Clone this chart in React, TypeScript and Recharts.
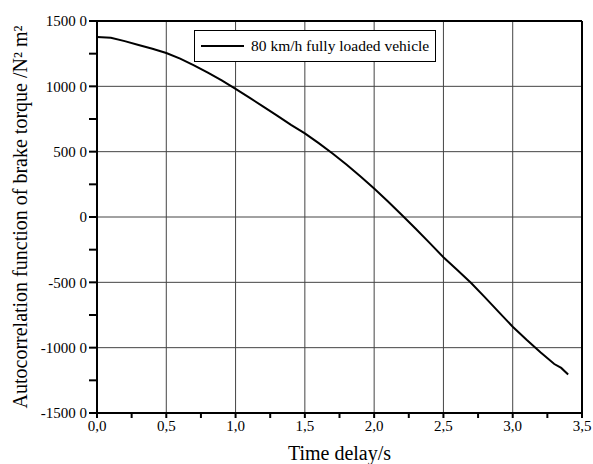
import { LineChart, Line, XAxis, YAxis, Legend, ReferenceLine } from 'recharts'

// time delay (s) and autocorrelation values
const timeDelay = [
  0.0, 0.1, 0.2, 0.3, 0.4, 0.5, 0.6, 0.7, 0.8, 0.9, 1.0, 1.1, 1.2, 1.3, 1.4, 1.5, 1.6, 1.7,
  1.8, 1.9, 2.0, 2.1, 2.2, 2.3, 2.4, 2.5, 2.6, 2.7, 2.8, 2.9, 3.0, 3.1, 3.2, 3.3, 3.35, 3.4,
]
const autocorr = [
  13770, 13720, 13460, 13170, 12880, 12550, 12120, 11610, 11050, 10450, 9800, 9130, 8450, 7760,
  7050, 6400, 5650, 4860, 4020, 3120, 2180, 1180, 150, -900, -1980, -3080, -4050, -5050, -6150,
  -7280, -8400, -9400, -10350, -11250, -11550, -12050,
]
const seriesName = '80 km/h fully loaded vehicle'

const xTicks = [0, 0.25, 0.5, 0.75, 1, 1.25, 1.5, 1.75, 2, 2.25, 2.5, 2.75, 3, 3.25, 3.5]
const xMajor = [0, 0.5, 1, 1.5, 2, 2.5, 3, 3.5]
const xTickLabels = ['0,0', '0,5', '1,0', '1,5', '2,0', '2,5', '3,0', '3,5']

const yTicks = [-15000, -12500, -10000, -7500, -5000, -2500, 0, 2500, 5000, 7500, 10000, 12500, 15000]
const yMajor = [-15000, -10000, -5000, 0, 5000, 10000, 15000]
const yTickLabels = ['-1500 0', '-1000 0', '-500 0', '0', '500 0', '1000 0', '1500 0']

const data = timeDelay.map((t, i) => ({ t, r: autocorr[i] }))

const serif = "'Liberation Serif', 'Times New Roman', serif"

function LegendBox({ payload }: any) {
  if (!payload || !payload.length) return null
  return (
    <div
      style={{
        border: '1px solid #000',
        background: '#fff',
        padding: '6px 6px 6px 6px',
        display: 'flex',
        alignItems: 'center',
        fontFamily: serif,
        fontSize: 15.5,
        color: '#000',
        whiteSpace: 'nowrap',
      }}
    >
      <span style={{ display: 'inline-block', width: 43, height: 2, background: '#000', marginRight: 7 }} />
      {payload[0].value}
    </div>
  )
}

export default function App() {
  return (
    <div style={{ position: 'absolute', left: 0, top: 0, background: '#fff', fontFamily: serif }}>
      <LineChart
        width={593}
        height={464}
        data={data}
        margin={{ top: 21, right: 11, bottom: 0, left: 10 }}
      >
        {xMajor.slice(1, -1).map((v) => (
          <ReferenceLine key={'gx' + v} x={v} stroke="#444" strokeWidth={1} />
        ))}
        {yMajor.slice(1, -1).map((v) => (
          <ReferenceLine key={'gy' + v} y={v} stroke="#444" strokeWidth={1} />
        ))}
        <ReferenceLine x={3.5} stroke="#000" strokeWidth={2} />
        <ReferenceLine y={15000} stroke="#000" strokeWidth={2} />
        <XAxis
          dataKey="t"
          type="number"
          domain={[0, 3.5]}
          ticks={xTicks}
          interval={0}
          height={51}
          axisLine={{ stroke: '#000', strokeWidth: 2 }}
          tickLine={{ stroke: '#000', strokeWidth: 2 }}
          tickSize={5}
          tick={{ fill: '#000', fontSize: 15, style: { fontFamily: serif } }}
          tickFormatter={(v: number) => {
            const i = xMajor.indexOf(v)
            return i >= 0 ? xTickLabels[i] : ''
          }}
          label={{
            value: 'Time delay/s',
            position: 'insideBottom',
            offset: 4,
            style: { fill: '#000', fontSize: 20, fontFamily: serif },
          }}
        />
        <YAxis
          type="number"
          domain={[-15000, 15000]}
          ticks={yTicks}
          interval={0}
          width={87}
          axisLine={{ stroke: '#000', strokeWidth: 2 }}
          tickLine={{ stroke: '#000', strokeWidth: 2 }}
          tickSize={8}
          tick={{ fill: '#000', fontSize: 15, style: { fontFamily: serif } }}
          tickFormatter={(v: number) => {
            const i = yMajor.indexOf(v)
            return i >= 0 ? yTickLabels[i] : ''
          }}
          label={{
            value: 'Autocorrelation function of brake torque /N\u00b2 m\u00b2',
            angle: -90,
            position: 'insideLeft',
            offset: 10,
            style: { textAnchor: 'middle', fill: '#000', fontSize: 20, fontFamily: serif },
          }}
        />
        <Legend
          layout="vertical"
          align="center"
          verticalAlign="middle"
          content={<LegendBox />}
          wrapperStyle={{ position: 'absolute', left: 194, top: 30, width: 'auto' }}
        />
        <Line
          dataKey="r"
          name={seriesName}
          type="linear"
          stroke="#000"
          strokeWidth={2}
          dot={false}
          isAnimationActive={false}
        />
      </LineChart>
    </div>
  )
}
